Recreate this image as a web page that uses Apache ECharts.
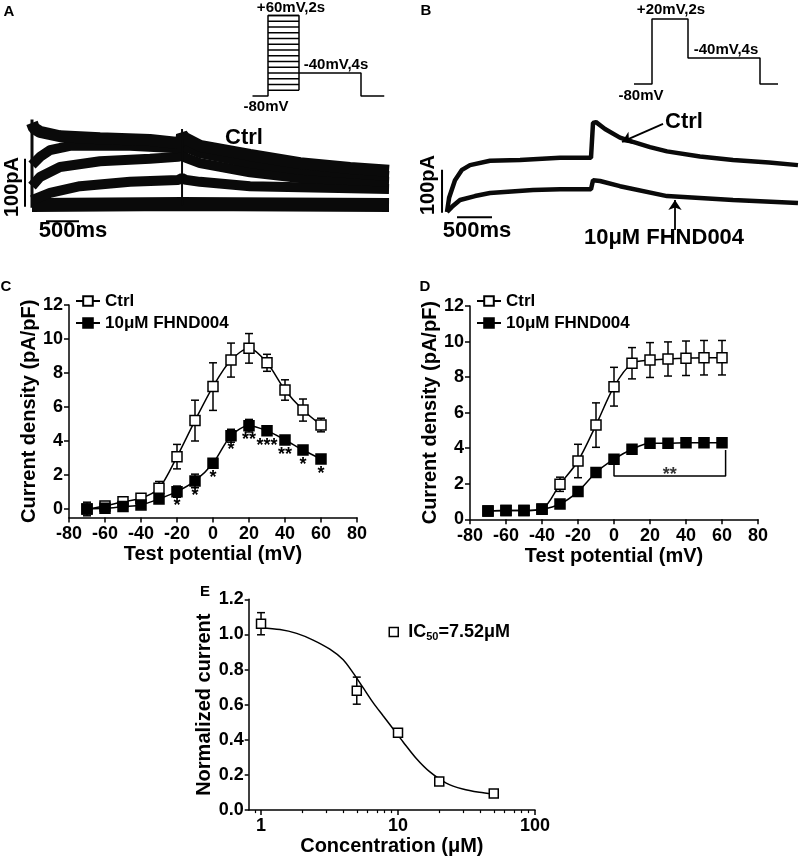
<!DOCTYPE html>
<html><head><meta charset="utf-8">
<script src="https://cdn.jsdelivr.net/npm/echarts@6/dist/echarts.min.js"></script>
<style>html,body{margin:0;padding:0;background:#fff}#c{width:800px;height:857px}</style>
</head><body><div id="c"></div>
<script>
// ---------- Panel A: traces (time ms, current pA) ----------
const traceA1 = [[0,165],[30,154],[121,146],[424,137],[1030,133],[1788,129],[2212,123],[2258,123],[2273,140],[2318,133],[2545,117],[3303,98],[4061,81],[4818,71],[5409,65]];
const traceA2 = [[0,77],[121,94],[273,108],[576,117],[1485,117],[2212,112],[2273,120],[2333,114],[2545,102],[3303,81],[4061,67],[5409,54]];
const traceA3 = [[0,33],[121,52],[424,73],[1030,85],[1788,90],[2212,94],[2273,98],[2333,92],[2545,81],[3303,62],[4061,50],[5409,42]];
const traceA4 = [[0,4],[273,19],[727,33],[1485,42],[2212,46],[2273,50],[2333,46],[2545,42],[3303,33],[5409,27]];
const traceA5 = [[0,-6],[2273,-4],[5409,-6]];
const transientA = [[0,-12],[0,172]];
const spikeA = [[2273,-8],[2273,152]];
const scaleAv = [[-106,-10],[-106,90]];
const scaleAh = [[212,-40],[712,-40]];
// Panel A protocol (ms, mV)
const protoAPath = [[-1000,-80],[0,-80],[0,60],[2000,60],[2000,-70]];
const protoAHold = [[2000,-40],[6000,-40],[6000,-80],[7500,-80]];
const protoALevels = [-70,-60,-50,-40,-30,-20,-10,0,10,20,30,40,50,60];
// ---------- Panel B ----------
const traceBCtrl = [[0,7],[30,40],[114,81],[214,105],[329,116],[614,126],[1043,128],[1614,133],[2057,133],[2086,214],[2129,216],[2257,200],[2471,180],[2657,170],[2900,158],[3143,148],[3614,136],[4086,128],[4600,122],[5014,116]];
const traceBDrug = [[0,7],[71,19],[186,35],[400,44],[614,51],[1229,58],[1614,60],[2057,60],[2086,81],[2186,79],[2471,67],[3143,44],[4086,35],[5014,28]];
const scaleBv = [[-71,5],[-71,105]];
const scaleBh = [[143,-5],[643,-5]];
const arrowBCtrl = [[3086,212],[2500,170]];
const arrowBDrug = [[3257,-35],[3257,35]];
const protoBPath = [[-1000,-80],[0,-80],[0,20],[2000,20],[2000,-40],[6000,-40],[6000,-80],[7000,-80]];
// ---------- Panel C ----------
const potentials = [-70,-60,-50,-40,-30,-20,-10,0,10,20,30,40,50,60];
const cCtrl = [0.0,0.18,0.43,0.63,1.22,3.08,5.2,7.2,8.76,9.45,8.6,7.0,5.82,4.94];
const cCtrlErr = [0.4,0.12,0.1,0.1,0.4,0.72,1.2,1.4,1.0,0.87,0.5,0.6,0.65,0.4];
const cDrug = [0.0,0.04,0.14,0.24,0.59,1.02,1.65,2.69,4.31,4.9,4.6,4.06,3.47,2.94];
const cDrugErr = [0.1,0.1,0.1,0.1,0.1,0.33,0.4,0.15,0.38,0.37,0.15,0.1,0.1,0.1];
const cStars = ['','','','','','*','*','*','*','**','***','**','*','*'];
const yTicksCD = [0,2,4,6,8,10,12];
// ---------- Panel D ----------
const dCtrl = [0.47,0.49,0.49,0.58,1.97,3.28,5.3,7.46,8.78,8.96,9.02,9.06,9.09,9.09];
const dCtrlErr = [0.05,0.05,0.05,0.1,0.4,0.94,1.25,1.09,0.88,0.98,0.96,0.97,0.97,0.97];
const dDrug = [0.47,0.49,0.49,0.56,0.86,1.56,2.63,3.38,3.94,4.28,4.28,4.31,4.31,4.31];
const dDrugErr = [0.05,0.05,0.05,0.05,0.05,0.05,0.05,0.05,0.05,0.05,0.05,0.05,0.05,0.05];
const dBracket = [[0,3.2],[0,2.44],[62,2.44],[62,3.9]];
const dBracketStar = [[31,2.74]];
// ---------- Panel E ----------
const concE = [1,5,10,20,50];
const normE = [1.061,0.68,0.441,0.163,0.094];
const normErr = [0.063,0.077,0.012,0.012,0.012];
const fitConc = [1,1.375,1.82,2.4,3.18,3.98,4.7,5.56,6.58,7.78,9.2,10.9,13.6,17.0,22.5,29.7,39.3,49.2];
const fitVal = [1.037,1.028,1.006,0.968,0.916,0.856,0.781,0.697,0.612,0.537,0.463,0.388,0.294,0.219,0.154,0.12,0.101,0.092];
const eMajorTicks = [1,10,100];
const eMinorTicks = [0.9,2,3,4,5,6,7,8,9,20,30,40,50,60,70,80,90];

const F = '"Liberation Sans", Arial, Helvetica, sans-serif';
const K = '#000';
const chart = echarts.init(document.getElementById('c'), null, {width:800, height:857});

const axLine = {show:true, onZero:false, lineStyle:{color:K, width:1.5}};
const axTick = {show:true, length:5, lineStyle:{color:K, width:1.5}};
const axLabel = {color:K, fontFamily:F, fontWeight:'bold', fontSize:18};
const nameTS = {color:K, fontFamily:F, fontWeight:'bold', fontSize:20};
function hid(gi,min,max){return {type:'value', gridIndex:gi, min, max, show:false};}

const grids = [
  {left:18.8, top:110.8, width:370.3, height:120},
  {left:252.5, top:15.5, width:131.75, height:80.5},
  {left:440, top:111.8, width:359.8, height:120.4},
  {left:634, top:19, width:144, height:65},
  {left:69, top:305, width:288, height:212.5},
  {left:470, top:306, width:288, height:213.3},
  {left:248.7, top:599.3, width:286.3, height:213}
];
const eMin = -0.09;
const xAxes = [
  hid(0,-200,5410), hid(1,-1000,7500), hid(2,-100,5040), hid(3,-1000,7000),
  {type:'value', gridIndex:4, min:-80, max:80, interval:20, axisLine:axLine, axisTick:axTick, axisLabel:{...axLabel, margin:8}, splitLine:{show:false},
   name:'Test potential (mV)', nameLocation:'middle', nameGap:21, nameTextStyle:nameTS},
  {type:'value', gridIndex:5, min:-80, max:80, interval:20, axisLine:axLine, axisTick:axTick, axisLabel:{...axLabel, margin:8}, splitLine:{show:false},
   name:'Test potential (mV)', nameLocation:'middle', nameGap:21, nameTextStyle:nameTS},
  {type:'value', gridIndex:6, min:eMin, max:2, axisLine:axLine,
   axisTick:{...axTick, customValues:eMajorTicks.map(Math.log10)},
   axisLabel:{...axLabel, margin:7, customValues:eMajorTicks.map(Math.log10), formatter:v=>String(Math.round(Math.pow(10,v)))},
   splitLine:{show:false}, name:'Concentration (μM)', nameLocation:'middle', nameGap:14, nameTextStyle:nameTS},
  {type:'value', gridIndex:6, min:eMin, max:2, position:'bottom', axisLine:{show:false}, axisLabel:{show:false}, splitLine:{show:false},
   axisTick:{show:true, length:3, lineStyle:{color:K, width:1.2}, customValues:eMinorTicks.map(Math.log10)}}
];
const yAxes = [
  hid(0,-60,190), hid(1,-80,60), hid(2,-40,240), hid(3,-80,20),
  {type:'value', gridIndex:4, min:-0.5, max:12, axisLine:axLine, axisTick:{...axTick, customValues:yTicksCD},
   axisLabel:{...axLabel, margin:6, customValues:yTicksCD}, splitLine:{show:false},
   name:'Current density (pA/pF)', nameLocation:'middle', nameRotate:90, nameGap:26, nameTextStyle:nameTS},
  {type:'value', gridIndex:5, min:0, max:12, interval:2, axisLine:axLine, axisTick:axTick,
   axisLabel:{...axLabel, margin:6}, splitLine:{show:false},
   name:'Current density (pA/pF)', nameLocation:'middle', nameRotate:90, nameGap:26, nameTextStyle:nameTS},
  {type:'value', gridIndex:6, min:0, max:1.2, interval:0.2, axisLine:axLine, axisTick:{...axTick, length:4},
   axisLabel:{...axLabel, margin:5, formatter:v=>v.toFixed(1)}, splitLine:{show:false},
   name:'Normalized current', nameLocation:'middle', nameRotate:90, nameGap:32, nameTextStyle:nameTS}
];

function trace(data, ai, w, color){
  return {type:'line', xAxisIndex:ai, yAxisIndex:ai, data, symbol:'none', showSymbol:false, silent:true, clip:false,
    lineStyle:{color:color||'#0a0a0a', width:w, join:'bevel'}, z:3};
}
function errRender(params, api){
  const x = api.value(0), y = api.value(1), e = api.value(2);
  const a = api.coord([x, y+e]), b = api.coord([x, y-e]);
  const w = 4, st = {stroke:K, lineWidth:1.5};
  return {type:'group', children:[
    {type:'line', shape:{x1:a[0],y1:a[1],x2:b[0],y2:b[1]}, style:st},
    {type:'line', shape:{x1:a[0]-w,y1:a[1],x2:a[0]+w,y2:a[1]}, style:st},
    {type:'line', shape:{x1:b[0]-w,y1:b[1],x2:b[0]+w,y2:b[1]}, style:st}]};
}
function errSeries(xs, ys, es, ai){
  return {type:'custom', xAxisIndex:ai, yAxisIndex:ai, silent:true, z:2, renderItem:errRender,
    dimensions:['x','y','e'], encode:{x:0, y:1}, data:xs.map((x,i)=>[x, ys[i], es[i]])};
}
function levelRender(params, api){
  const a = api.coord([api.value(0), api.value(2)]), b = api.coord([api.value(1), api.value(2)]);
  return {type:'line', shape:{x1:a[0],y1:a[1],x2:b[0],y2:b[1]}, style:{stroke:K, lineWidth:1.5}};
}
function ivSeries(name, xs, ys, ai, open, extra){
  return Object.assign({type:'line', name, xAxisIndex:ai, yAxisIndex:ai, data:xs.map((x,i)=>[x, ys[i]]),
    smooth:0.3, symbol:'rect', symbolSize:10, silent:true, z:4,
    lineStyle:{color:K, width:1.5},
    itemStyle:{color: open ? '#fff' : K, borderColor:K, borderWidth:1.5}}, extra||{});
}

const series = [
  // A traces
  trace(traceA5,0,14), trace(traceA4,0,10), trace(traceA3,0,10), trace(traceA2,0,10), trace(traceA1,0,12),
  trace(transientA,0,3), trace(spikeA,0,2),
  trace(scaleAv,0,2,K), trace(scaleAh,0,2,K),
  // A protocol
  trace(protoAPath,1,1.5,K), trace(protoAHold,1,1.5,K),
  {type:'custom', xAxisIndex:1, yAxisIndex:1, silent:true, renderItem:levelRender, encode:{x:[0,1], y:2},
   data:protoALevels.map(v=>[0,2000,v])},
  // B traces
  Object.assign(trace(traceBCtrl,2,4.5), {markLine:{silent:true, symbol:['none','arrow'], symbolSize:10, animation:false,
     lineStyle:{color:K, width:1.8, type:'solid'}, label:{show:false},
     data:[[{coord:arrowBCtrl[0]},{coord:arrowBCtrl[1]}],[{coord:arrowBDrug[0]},{coord:arrowBDrug[1]}]]}}),
  trace(traceBDrug,2,4.5),
  trace(scaleBv,2,2,K), trace(scaleBh,2,2,K),
  trace(protoBPath,3,1.5,K),
  // C
  errSeries(potentials, cCtrl, cCtrlErr, 4), errSeries(potentials, cDrug, cDrugErr, 4),
  ivSeries('Ctrl', potentials, cCtrl, 4, true),
  ivSeries('10μM FHND004', potentials, cDrug, 4, false, {label:{show:true, position:'bottom', distance:0,
    formatter:p=>cStars[p.dataIndex], color:K, fontFamily:F, fontWeight:'bold', fontSize:18}}),
  // D
  errSeries(potentials, dCtrl, dCtrlErr, 5), errSeries(potentials, dDrug, dDrugErr, 5),
  ivSeries('Ctrl', potentials, dCtrl, 5, true),
  ivSeries('10μM FHND004', potentials, dDrug, 5, false),
  {type:'line', xAxisIndex:5, yAxisIndex:5, data:dBracket, symbol:'none', silent:true, lineStyle:{color:K, width:1.5}, z:3},
  {type:'scatter', xAxisIndex:5, yAxisIndex:5, data:dBracketStar, symbolSize:0, silent:true,
   label:{show:true, position:'inside', offset:[0,4], formatter:'**', color:K, fontFamily:F, fontWeight:'bold', fontSize:18}},
  // E
  errSeries(concE.map(Math.log10), normE, normErr, 6),
  {type:'line', name:'fit', xAxisIndex:6, yAxisIndex:6, data:fitConc.map((c,i)=>[Math.log10(c), fitVal[i]]),
   smooth:0.3, symbol:'none', silent:true, lineStyle:{color:K, width:1.5}, z:3},
  {type:'scatter', name:'IC50', xAxisIndex:6, yAxisIndex:6, data:concE.map((c,i)=>[Math.log10(c), normE[i]]),
   symbol:'rect', symbolSize:9, silent:true, itemStyle:{color:'#fff', borderColor:K, borderWidth:1.5, opacity:1}, z:4}
];

const legTS = {fontFamily:F, fontWeight:'bold', fontSize:17, color:K, lineHeight:18};
const legends = [
  {data:['Ctrl','10μM FHND004'], left:75, top:292, orient:'vertical', itemWidth:24, itemHeight:12, itemGap:4, padding:0, selectedMode:false, textStyle:legTS},
  {data:['Ctrl','10μM FHND004'], left:476, top:292, orient:'vertical', itemWidth:24, itemHeight:12, itemGap:4, padding:0, selectedMode:false, textStyle:legTS},
  {data:['IC50'], left:388.5, top:623, icon:'rect', itemWidth:9, itemHeight:9, padding:0, selectedMode:false,
   itemStyle:{color:'#fff', borderColor:K, borderWidth:1.5},
   formatter:()=>'{a|IC}{s|50}{a|=7.52μM}',
   textStyle:{padding:[0,0,0,5], rich:{a:{fontFamily:F, fontWeight:'bold', fontSize:18, color:K},
     s:{fontFamily:F, fontWeight:'bold', fontSize:11, color:K, padding:[10,0,0,0]}}}}
];

function txt(t, x, y, size, rot){
  return {type:'text', x, y, rotation:rot||0, silent:true,
    style:{text:t, align:'center', verticalAlign:'middle', fontFamily:F, fontWeight:'bold', fontSize:size, fill:K}};
}
const graphic = [
  txt('A',9,12,15), txt('B',426,11,15), txt('C',6,287,15), txt('D',425,287,15), txt('E',205,592,15),
  txt('+60mV,2s',291,8,15), txt('-40mV,4s',336,65,15), txt('-80mV',266,107,15),
  txt('+20mV,2s',671,10,15), txt('-40mV,4s',726,50,15), txt('-80mV',641,96,15),
  txt('Ctrl',244,138,22), txt('Ctrl',684,122,22), txt('10μM FHND004',664,238,22),
  txt('500ms',73,231,22), txt('500ms',477,231,22),
  txt('100pA',12,187,20,Math.PI/2), txt('100pA',428,185,20,Math.PI/2)
];

chart.setOption({
  animation:false, backgroundColor:'#fff',
  grid:grids, xAxis:xAxes, yAxis:yAxes, series, legend:legends, graphic
});
</script></body></html>
